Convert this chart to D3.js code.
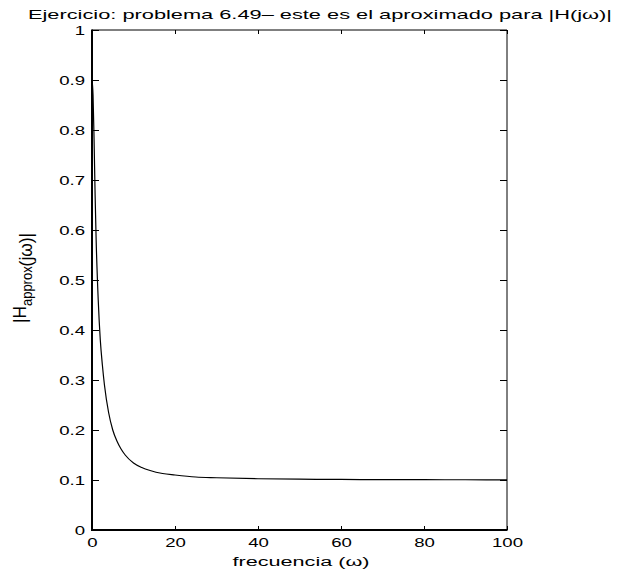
<!DOCTYPE html>
<html>
<head>
<meta charset="utf-8">
<script src="https://cdn.jsdelivr.net/npm/d3@7/dist/d3.min.js"></script>
<style>
  html, body { margin: 0; padding: 0; background: #fff; }
  svg { display: block; }
  text { font-family: "Liberation Sans", Arial, Helvetica, sans-serif; fill: #000; }
</style>
</head>
<body>
<svg id="chart" width="626" height="575"></svg>
<script>
// Frequency samples (rad/s) and magnitude of the approximated response
const omega = [0, 0.25, 0.5, 0.75, 1, 1.5, 2, 2.5, 3, 4, 5, 6, 7, 8, 10, 12, 14, 17, 20, 25, 30, 40, 50, 60, 70, 80, 90, 100];
const magnitude = [0.9, 0.87, 0.78, 0.67, 0.58, 0.46, 0.38, 0.33, 0.29, 0.235, 0.2, 0.178, 0.162, 0.15, 0.134, 0.125, 0.119, 0.113, 0.11, 0.106, 0.1045, 0.1025, 0.1016, 0.1011, 0.1008, 0.1006, 0.1005, 0.1004];

// Axis ticks and their labels
const xTicks = [0, 20, 40, 60, 80, 100];
const xTickLabels = ["0", "20", "40", "60", "80", "100"];
const yTicks = [0, 0.1, 0.2, 0.3, 0.4, 0.5, 0.6, 0.7, 0.8, 0.9, 1];
const yTickLabels = ["0", "0.1", "0.2", "0.3", "0.4", "0.5", "0.6", "0.7", "0.8", "0.9", "1"];

const titleText = "Ejercicio: problema 6.49\u2013 este es el aproximado para |H(j\u03c9)|";
const xLabelText = "frecuencia (\u03c9)";

const svg = d3.select("#chart");
const plotLeft = 92, plotRight = 507, plotTop = 30, plotBottom = 530;
const stretch = 1.55;   // text is drawn wide, as in the exported figure
const fs = 12;

const x = d3.scaleLinear().domain([0, 100]).range([plotLeft, plotRight]);
const y = d3.scaleLinear().domain([0, 1]).range([plotBottom, plotTop]);

// curve
const line = d3.line()
  .x((d, i) => x(omega[i]))
  .y(d => y(d))
  .curve(d3.curveMonotoneX);

svg.append("path")
  .datum(magnitude)
  .attr("d", line)
  .attr("fill", "none")
  .attr("stroke", "#000")
  .attr("stroke-width", 1.2);

// axes with inward ticks, mirrored on top and right
const fmtX = (d) => xTickLabels[xTicks.indexOf(d)];
const fmtY = (d) => yTickLabels[yTicks.indexOf(d)];

const gB = svg.append("g").attr("transform", `translate(0,${plotBottom})`)
  .call(d3.axisBottom(x).tickValues(xTicks).tickFormat(fmtX).tickSizeInner(-4).tickSizeOuter(0).tickPadding(8));
const gT = svg.append("g").attr("transform", `translate(0,${plotTop})`)
  .call(d3.axisTop(x).tickValues(xTicks).tickFormat("").tickSizeInner(-4).tickSizeOuter(0));
const gL = svg.append("g").attr("transform", `translate(${plotLeft},0)`)
  .call(d3.axisLeft(y).tickValues(yTicks).tickFormat(fmtY).tickSizeInner(-7).tickSizeOuter(0).tickPadding(7));
const gR = svg.append("g").attr("transform", `translate(${plotRight},0)`)
  .call(d3.axisRight(y).tickValues(yTicks).tickFormat("").tickSizeInner(-7).tickSizeOuter(0));

[gB, gT, gL, gR].forEach(g => {
  g.select(".domain").remove();
  g.selectAll(".tick line").attr("stroke", "#000").attr("stroke-width", 1);
  g.selectAll("text").attr("font-size", fs).attr("font-family", null).attr("fill", "#000");
});

// widen tick labels horizontally
gB.selectAll(".tick text").attr("transform", `scale(${stretch},1)`);
gL.selectAll(".tick text")
  .attr("x", -7 / stretch)
  .attr("dy", "0.36em")
  .attr("transform", `scale(${stretch},1)`);

// frame
svg.append("line").attr("x1", plotLeft).attr("x2", plotRight).attr("y1", plotTop).attr("y2", plotTop).attr("stroke", "#000").attr("stroke-width", 1);
svg.append("line").attr("x1", plotRight).attr("x2", plotRight).attr("y1", plotTop).attr("y2", plotBottom).attr("stroke", "#000").attr("stroke-width", 1);
svg.append("line").attr("x1", plotLeft).attr("x2", plotLeft).attr("y1", plotTop - 0.5).attr("y2", plotBottom + 1).attr("stroke", "#000").attr("stroke-width", 2);
svg.append("line").attr("x1", plotLeft - 1).attr("x2", plotRight + 0.5).attr("y1", plotBottom).attr("y2", plotBottom).attr("stroke", "#000").attr("stroke-width", 2);

// title
svg.append("text")
  .attr("x", 320).attr("y", 19)
  .attr("text-anchor", "middle")
  .attr("font-size", 13.3)
  .attr("textLength", 584)
  .attr("lengthAdjust", "spacingAndGlyphs")
  .text(titleText);

// x label
svg.append("text")
  .attr("x", 301).attr("y", 566)
  .attr("text-anchor", "middle")
  .attr("font-size", fs)
  .attr("textLength", 137)
  .attr("lengthAdjust", "spacingAndGlyphs")
  .text(xLabelText);

// y label, rotated, with subscript
const yl = svg.append("text")
  .attr("transform", `translate(26,278) rotate(-90) scale(1,${stretch})`)
  .attr("text-anchor", "middle")
  .attr("font-size", fs)
  .attr("textLength", 90)
  .attr("lengthAdjust", "spacingAndGlyphs");
yl.append("tspan").text("|H");
yl.append("tspan").attr("font-size", 9).attr("dy", 4).text("approx");
yl.append("tspan").text("(j\u03c9)|");
</script>
</body>
</html>
